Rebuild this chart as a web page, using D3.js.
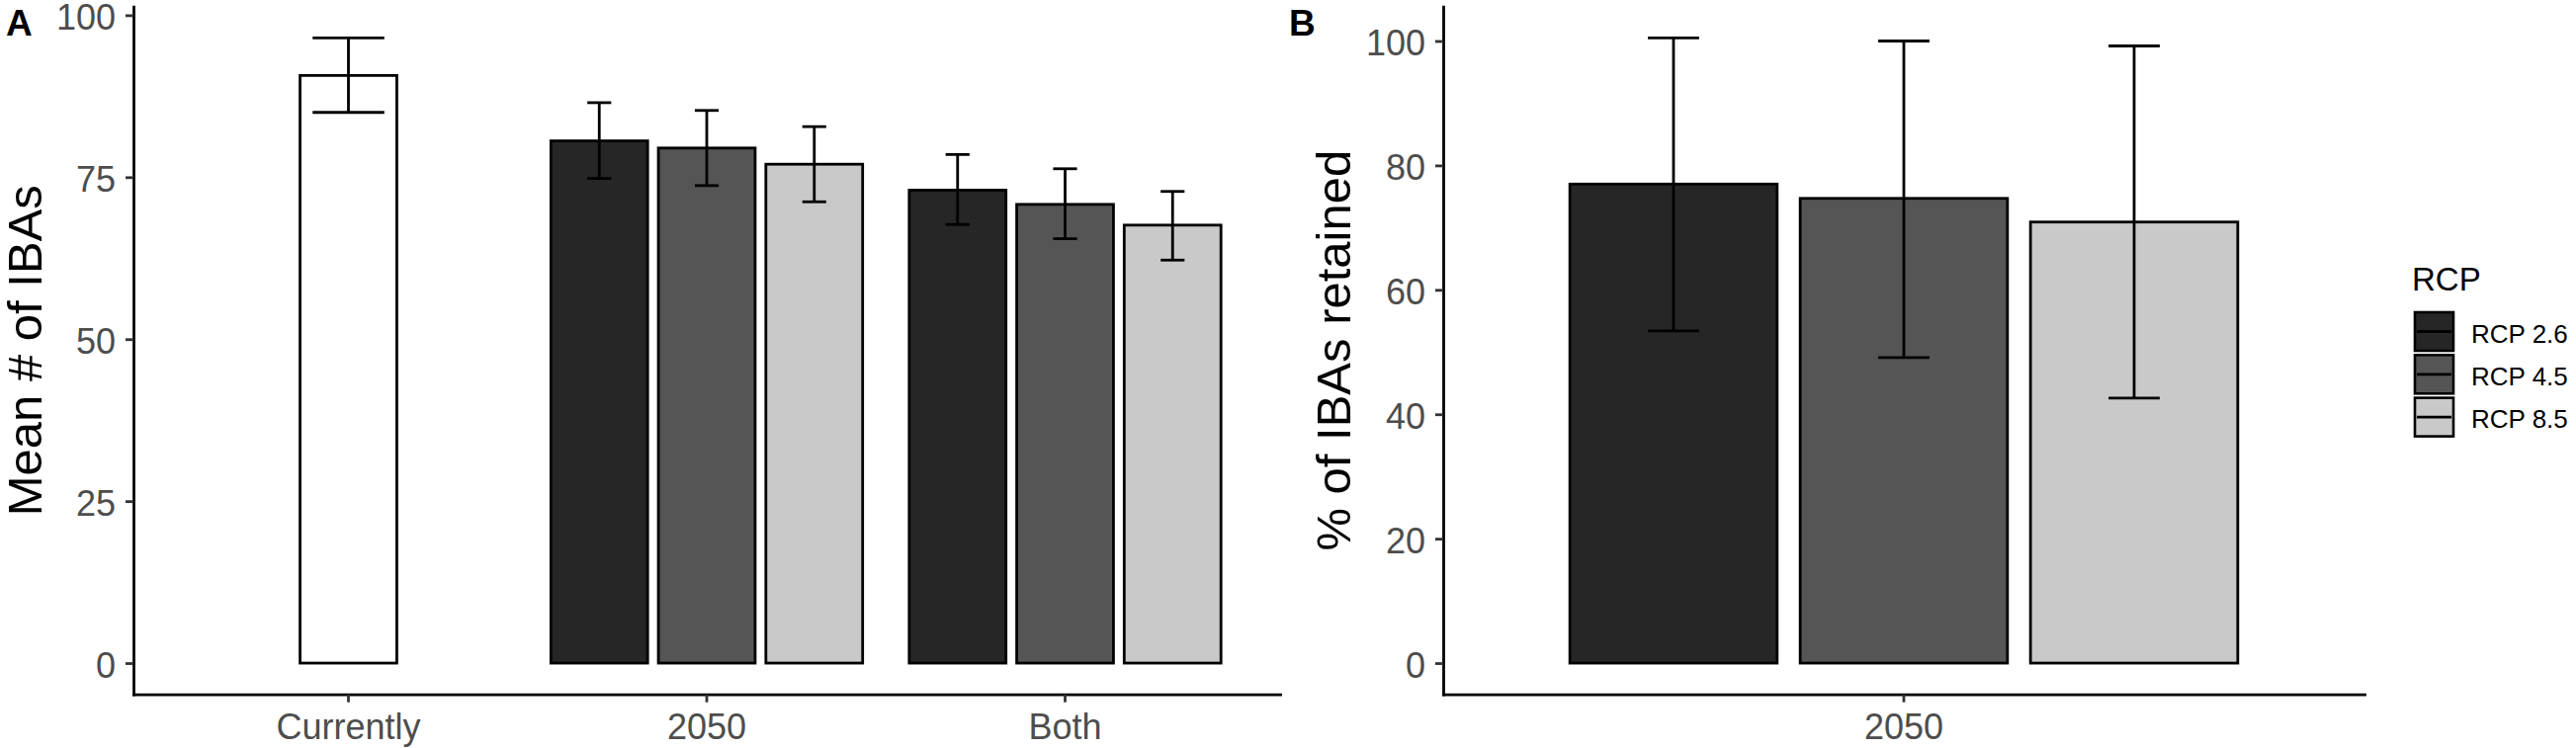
<!DOCTYPE html>
<html>
<head>
<meta charset="utf-8">
<script src="https://cdn.jsdelivr.net/npm/d3@7"></script>
<style>
  body { margin: 0; background: #fff; }
  svg { display: block; }
  text { font-family: "Liberation Sans", Arial, sans-serif; }
</style>
</head>
<body>
<div id="chart"></div>
<script>
const rcps = ["RCP 2.6", "RCP 4.5", "RCP 8.5"];
const rcpFill = ["#262626", "#555555", "#c9c9c9"];

// panel A: mean number of IBAs
const periodsA = ["Currently", "2050", "Both"];
const currentMean = 90.7, currentLow = 85.0, currentHigh = 96.5;
const mean2050 = [80.6, 79.5, 77.0];
const low2050 = [74.8, 73.7, 71.2];
const high2050 = [86.5, 85.3, 82.8];
const meanBoth = [73.0, 70.8, 67.6];
const lowBoth = [67.7, 65.5, 62.2];
const highBoth = [78.5, 76.3, 72.8];
const ticksA = [0, 25, 50, 75, 100];

// panel B: % of IBAs retained
const periodsB = ["2050"];
const meanB = [77.0, 74.7, 70.9];
const lowB = [53.4, 49.1, 42.6];
const highB = [100.5, 100.0, 99.2];
const ticksB = [0, 20, 40, 60, 80, 100];

const width = 2606, height = 757;
const plotTop = 6.7, plotBottom = 702.7;
const lw = 2.8;

const svg = d3.select("#chart")
  .append("svg")
  .attr("width", width)
  .attr("height", height);

const rowsA = [{ period: "Currently", rcp: null, fill: "#fff", mean: currentMean, low: currentLow, high: currentHigh }]
  .concat(rcps.map((r, i) => ({ period: "2050", rcp: r, fill: rcpFill[i], mean: mean2050[i], low: low2050[i], high: high2050[i] })))
  .concat(rcps.map((r, i) => ({ period: "Both", rcp: r, fill: rcpFill[i], mean: meanBoth[i], low: lowBoth[i], high: highBoth[i] })));

const rowsB = rcps.map((r, i) => ({ period: "2050", rcp: r, fill: rcpFill[i], mean: meanB[i], low: lowB[i], high: highB[i] }));

function panel(opts) {
  const g = svg.append("g");

  const x = d3.scaleBand()
    .domain(opts.periods)
    .range([opts.left, opts.right])
    .paddingInner(0.1)
    .paddingOuter(0.15);

  const xIn = d3.scaleBand()
    .domain(rcps)
    .range([0, x.bandwidth()])
    .paddingInner(0.1)
    .paddingOuter(0.05);

  const yMax = d3.max(opts.rows, d => d.high);
  const pad = yMax * 0.05;
  const y = d3.scaleLinear()
    .domain([-pad, yMax + pad])
    .range([plotBottom, plotTop]);

  const barX = d => d.rcp === null
    ? x(d.period) + (x.bandwidth() - xIn.bandwidth()) / 2
    : x(d.period) + xIn(d.rcp);
  const midX = d => barX(d) + xIn.bandwidth() / 2;
  const capW = d => d.rcp === null ? 0.2 * x.step() : 0.2 * x.step() / rcps.length;

  g.selectAll("rect.bar")
    .data(opts.rows)
    .enter()
    .append("rect")
    .attr("class", "bar")
    .attr("x", barX)
    .attr("y", d => y(d.mean))
    .attr("width", xIn.bandwidth())
    .attr("height", d => y(0) - y(d.mean))
    .attr("fill", d => d.fill)
    .attr("stroke", "#000")
    .attr("stroke-width", lw);

  const eb = g.selectAll("g.err")
    .data(opts.rows)
    .enter()
    .append("g")
    .attr("class", "err")
    .attr("stroke", "#000")
    .attr("stroke-width", lw);

  eb.append("line")
    .attr("x1", midX).attr("x2", midX)
    .attr("y1", d => y(d.low)).attr("y2", d => y(d.high));
  eb.append("line")
    .attr("x1", d => midX(d) - capW(d) / 2).attr("x2", d => midX(d) + capW(d) / 2)
    .attr("y1", d => y(d.high)).attr("y2", d => y(d.high));
  eb.append("line")
    .attr("x1", d => midX(d) - capW(d) / 2).attr("x2", d => midX(d) + capW(d) / 2)
    .attr("y1", d => y(d.low)).attr("y2", d => y(d.low));

  const yAxis = g.append("g")
    .attr("transform", `translate(${opts.left},0)`)
    .call(d3.axisLeft(y).tickValues(opts.ticks).tickSize(8).tickSizeOuter(0).tickPadding(10));
  yAxis.selectAll(".tick text").attr("dy", "0.39em");

  const xAxis = g.append("g")
    .attr("transform", `translate(0,${plotBottom})`)
    .call(d3.axisBottom(x).tickSize(8).tickSizeOuter(0).tickPadding(12));

  [yAxis, xAxis].forEach(a => {
    a.select(".domain").attr("stroke", "#000").attr("stroke-width", lw).attr("stroke-linecap", "square");
    a.selectAll(".tick line").attr("stroke", "#333").attr("stroke-width", lw);
    a.selectAll(".tick text").attr("fill", "#4d4d4d").style("font-size", "36px");
  });

  g.append("text")
    .attr("transform", `translate(${opts.titleX},${(plotTop + plotBottom) / 2}) rotate(-90)`)
    .attr("text-anchor", "middle")
    .style("font-size", "49px")
    .attr("fill", "#000")
    .text(opts.title);

  g.append("text")
    .attr("x", opts.letterX)
    .attr("y", 36)
    .style("font-size", "37px")
    .style("font-weight", "bold")
    .attr("fill", "#000")
    .text(opts.letter);
}

panel({ periods: periodsA, rows: rowsA, ticks: ticksA, left: 135, right: 1295,
  title: "Mean # of IBAs", titleX: 42, letter: "A", letterX: 6 });
panel({ periods: periodsB, rows: rowsB, ticks: ticksB, left: 1460, right: 2392,
  title: "% of IBAs retained", titleX: 1366, letter: "B", letterX: 1304 });

// Legend
const legend = svg.append("g")
  .attr("transform", "translate(2442,0)");

legend.append("text")
  .attr("x", -2)
  .attr("y", 294)
  .style("font-size", "33px")
  .attr("fill", "#000")
  .text("RCP");

const keySize = 41, keyStep = 43.3, keyTop = 315;

legend.selectAll("g.key")
  .data(rcps)
  .enter()
  .append("g")
  .attr("class", "key")
  .attr("transform", (d, i) => `translate(0,${keyTop + i * keyStep})`)
  .each(function(d, i) {
    const k = d3.select(this);
    k.append("rect")
      .attr("x", 1).attr("y", 1)
      .attr("width", keySize - 2).attr("height", keySize - 2)
      .attr("fill", rcpFill[i])
      .attr("stroke", "#000")
      .attr("stroke-width", 2.6);
    k.append("line")
      .attr("x1", 3).attr("x2", keySize - 3)
      .attr("y1", keySize / 2).attr("y2", keySize / 2)
      .attr("stroke", "#000")
      .attr("stroke-width", lw);
    k.append("text")
      .attr("x", 58)
      .attr("y", keySize / 2 + 11)
      .style("font-size", "26px")
      .attr("fill", "#000")
      .text(d);
  });
</script>
</body>
</html>
